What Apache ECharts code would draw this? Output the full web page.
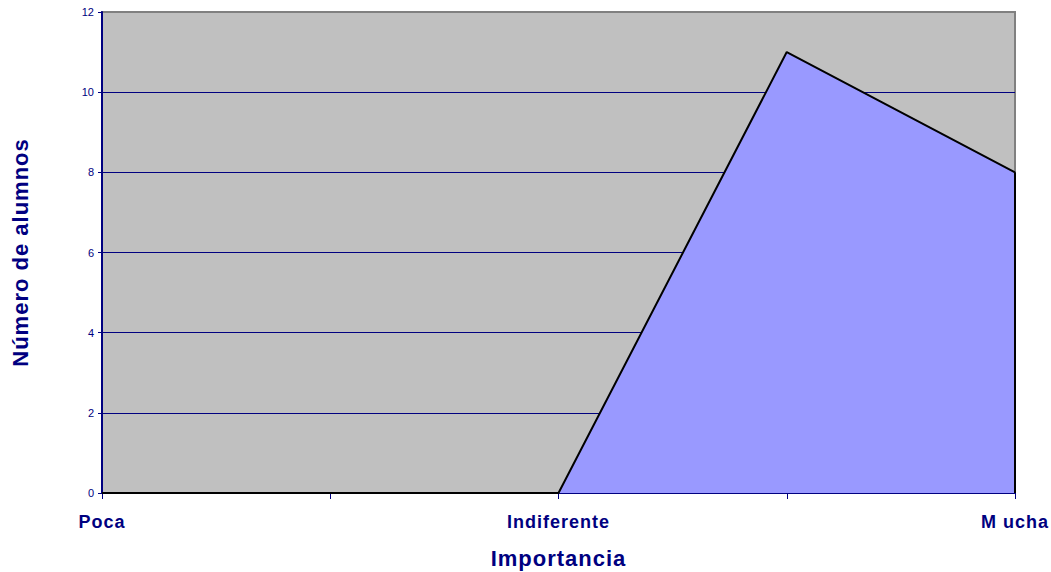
<!DOCTYPE html>
<html>
<head>
<meta charset="utf-8">
<script src="https://cdn.jsdelivr.net/npm/echarts@6/dist/echarts.min.js"></script>
<style>
  html, body { margin: 0; padding: 0; background: #fff; }
  #chart { width: 1051px; height: 572px; }
  /* old Excel charts space the bold labels out a bit */
  #chart text[style*="bold"] { letter-spacing: 1px; }
</style>
</head>
<body>
<div id="chart"></div>
<script>
// categories (only every other one is labelled in the original)
var categories = ['Poca', '', 'Indiferente', '', 'M ucha'];
var alumnos = [0, 0, 0, 11, 8];

var navy = '#000080';
var font = '"Liberation Sans", Arial, sans-serif';

var myChart = echarts.init(document.getElementById('chart'), null, { renderer: 'svg' });
var last = categories.length - 1;
var option = {
    animation: false,
    grid: {
        left: 102,
        right: 36,
        top: 12,
        bottom: 79,
        outerBoundsMode: 'none',
        show: true,
        backgroundColor: '#C0C0C0',
        borderColor: '#808080',
        borderWidth: 2
    },
    xAxis: {
        type: 'category',
        data: categories,
        boundaryGap: false,
        name: 'Importancia',
        nameLocation: 'middle',
        nameGap: 54,
        nameTextStyle: { color: navy, fontSize: 22, fontWeight: 'bold', fontFamily: font },
        axisLine: { lineStyle: { color: navy, width: 2 } },
        axisTick: { show: true, interval: 0, length: 6, lineStyle: { color: navy } },
        axisLabel: {
            interval: 0,
            margin: 20,
            color: navy,
            fontSize: 18,
            fontWeight: 'bold',
            fontFamily: font
        },
        splitLine: { show: false }
    },
    yAxis: {
        type: 'value',
        min: 0,
        max: 12,
        interval: 2,
        name: 'Número de alumnos',
        nameLocation: 'middle',
        nameGap: 71,
        nameTextStyle: { color: navy, fontSize: 22, fontWeight: 'bold', fontFamily: font },
        axisLine: { show: true, lineStyle: { color: navy, width: 2 } },
        axisTick: { show: true, length: 4, lineStyle: { color: navy } },
        axisLabel: { color: navy, fontSize: 11, margin: 8, fontFamily: font },
        splitLine: { show: true, showMaxLine: false, showMinLine: false, lineStyle: { color: navy, width: 1 } }
    },
    series: [
        {
            type: 'line',
            data: alumnos,
            symbol: 'none',
            lineStyle: { color: '#000', width: 2 },
            areaStyle: { color: '#9999FF', opacity: 1 },
            z: 3,
            // closing edge of the area at the last category
            markLine: {
                silent: true,
                symbol: 'none',
                label: { show: false },
                lineStyle: { color: '#000', width: 2, type: 'solid' },
                data: [[{ coord: [last, 0] }, { coord: [last, alumnos[last]] }]]
            }
        }
    ]
};

myChart.setOption(option);
window.addEventListener("resize", function () {
    myChart.resize();
});
</script>
</body>
</html>
